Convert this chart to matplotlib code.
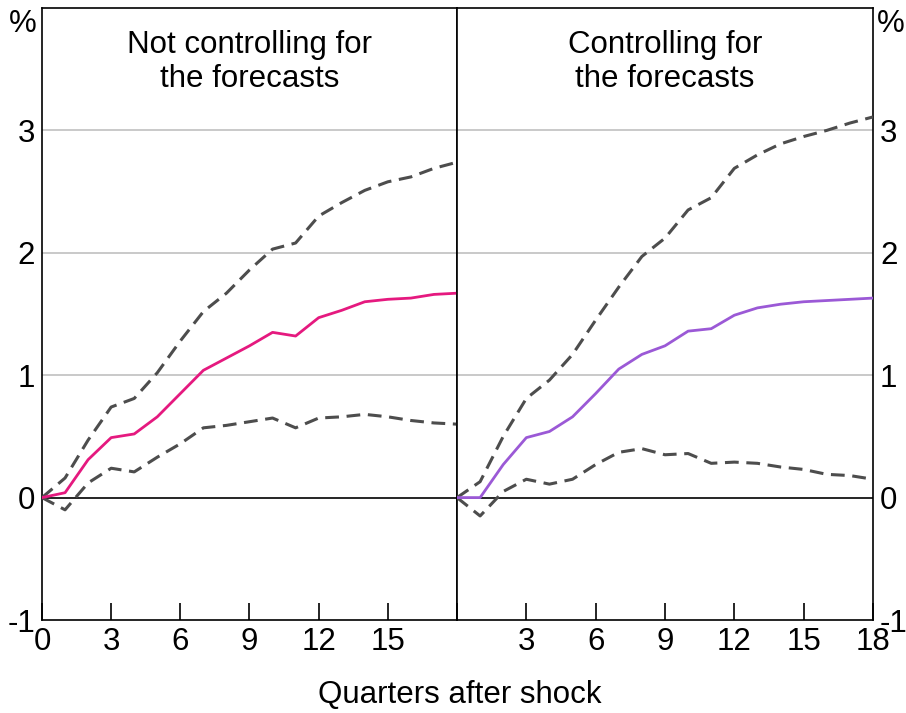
import numpy as np
import matplotlib
matplotlib.use("Agg")
import matplotlib.pyplot as plt

plt.rcParams["font.family"] = ["Liberation Sans", "DejaVu Sans"]

quarters = np.arange(19)

# not controlling for the forecasts
left_est = [0, 0.04, 0.31, 0.49, 0.52, 0.66, 0.85, 1.04, 1.14, 1.24, 1.35,
            1.32, 1.47, 1.53, 1.60, 1.62, 1.63, 1.66, 1.67]
left_upper = [0, 0.16, 0.47, 0.74, 0.81, 1.02, 1.28, 1.52, 1.67, 1.86, 2.03,
              2.08, 2.30, 2.41, 2.51, 2.58, 2.62, 2.69, 2.74]
left_lower = [0, -0.10, 0.12, 0.24, 0.21, 0.33, 0.44, 0.57, 0.59, 0.62, 0.65,
              0.57, 0.65, 0.66, 0.68, 0.66, 0.63, 0.61, 0.60]

# controlling for the forecasts
right_est = [0, 0, 0.27, 0.49, 0.54, 0.66, 0.85, 1.05, 1.17, 1.24, 1.36,
             1.38, 1.49, 1.55, 1.58, 1.60, 1.61, 1.62, 1.63]
right_upper = [0, 0.13, 0.50, 0.81, 0.96, 1.17, 1.45, 1.72, 1.97, 2.12, 2.35,
               2.45, 2.69, 2.80, 2.89, 2.95, 3.00, 3.06, 3.11]
right_lower = [0, -0.15, 0.05, 0.15, 0.11, 0.15, 0.27, 0.37, 0.40, 0.35, 0.36,
               0.28, 0.29, 0.28, 0.25, 0.23, 0.19, 0.18, 0.15]

titles = ["Not controlling for\nthe forecasts", "Controlling for\nthe forecasts"]
colors = ["#E5197F", "#9B59D6"]
yticks = [-1, 0, 1, 2, 3]
fs = 22.5

fig = plt.figure(figsize=(9.06, 7.13), dpi=100)
ax1 = fig.add_axes([42 / 906, 1 - 620 / 713, 415 / 906, 612 / 713])
ax2 = fig.add_axes([457 / 906, 1 - 620 / 713, 416 / 906, 612 / 713])

panels = [(ax1, left_est, left_upper, left_lower),
          (ax2, right_est, right_upper, right_lower)]

for i, (ax, est, up, lo) in enumerate(panels):
    ax.set_xlim(0, 18)
    ax.set_ylim(-1, 4)
    for g in [1, 2, 3]:
        ax.axhline(g, color="#C0C0C0", lw=1.2, zorder=1)
    ax.axhline(0, color="black", lw=1.2, zorder=2)
    ax.plot(quarters, up, color="#4D4D4D", lw=2.2, ls=(0, (4.5, 2.5)), zorder=3)
    ax.plot(quarters, lo, color="#4D4D4D", lw=2.2, ls=(0, (4.5, 2.5)), zorder=3)
    ax.plot(quarters, est, color=colors[i], lw=2.0, zorder=4)
    ax.text(0.5, 0.964, titles[i], transform=ax.transAxes, ha="center",
            va="top", fontsize=fs, linespacing=1.17)
    ax.set_xticks([0, 3, 6, 9, 12, 15, 18])
    ax.tick_params(axis="x", direction="in", length=12, width=1.2,
                   labelsize=fs, pad=5)
    ax.tick_params(axis="y", length=0, labelsize=fs, pad=5)
    ax.set_yticks(yticks)
    for s in ax.spines.values():
        s.set_linewidth(1.2)

ax1.set_xticklabels(["0", "3", "6", "9", "12", "15", ""])
ax2.set_xticklabels(["", "3", "6", "9", "12", "15", "18"])
ax1.set_yticklabels([str(v) for v in yticks])
ax2.yaxis.tick_right()
ax2.set_yticklabels([str(v) for v in yticks])
ax2.tick_params(axis="y", length=0, labelsize=fs, pad=5)

fig.text(37 / 906, 1 - 24 / 713, "%", ha="right", va="center", fontsize=fs)
fig.text(877 / 906, 1 - 24 / 713, "%", ha="left", va="center", fontsize=fs)
fig.text(460 / 906, 1 - 695 / 713, "Quarters after shock", ha="center",
         va="center", fontsize=fs)

fig.savefig("out.png", dpi=100)
